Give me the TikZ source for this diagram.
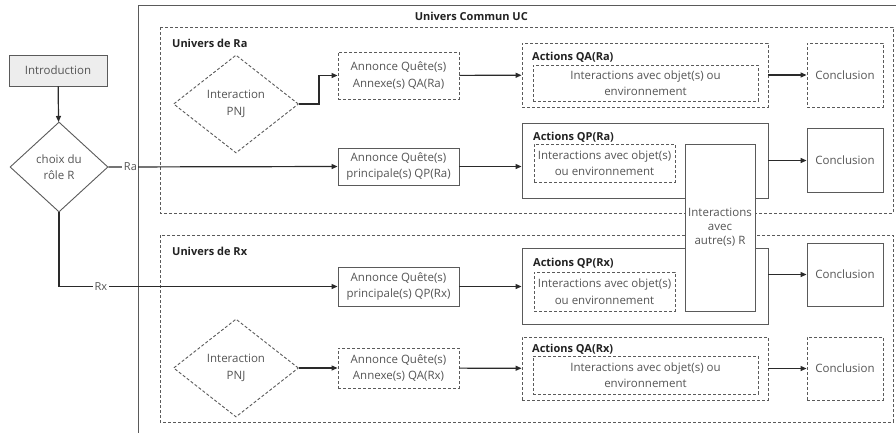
\documentclass[tikz,border=0pt]{standalone}
\usepackage{fontspec}
\setmainfont{Open Sans}
\usetikzlibrary{shapes.geometric,arrows.meta}
\definecolor{ln}{HTML}{5A5A5A}
\definecolor{tx}{HTML}{555555}
\definecolor{tt}{HTML}{222222}
\definecolor{ar}{HTML}{2A2A2A}
\tikzset{
 base/.style={draw=ln, line width=0.9pt, text=tx, inner sep=0pt, align=center, font=\fontsize{11.5}{16.5}\selectfont},
 box/.style={base, rectangle, fill=white},
 dsh/.style={dash pattern=on 3pt off 2pt},
 dbox/.style={box, dsh},
 dia/.style={base, diamond, aspect=1.28},
 ttl/.style={font=\bfseries\fontsize{11}{13}\selectfont, text=tt, inner sep=0pt, anchor=west},
 arr/.style={-{Triangle[length=6pt,width=5pt]}, line width=1.2pt, draw=ar},
 ln2/.style={line width=1.2pt, draw=ar},
 lbl/.style={fill=white, inner sep=1.5pt, text=tx, font=\fontsize{11}{13}\selectfont},
 cont/.style={draw=ln, line width=0.9pt, dsh},
}
\begin{document}
\begin{tikzpicture}[x=1pt,y=-1pt]
\path[use as bounding box, clip] (0,0) rectangle (896,432);
\fill[white] (0,0) rectangle (896,432);
% outer universe
\draw[draw=ln, line width=0.9pt] (138,5) rectangle (910,450);
\node[ttl, anchor=east] (uclbl) at (528,16) {Univers Commun UC};
% containers
\draw[cont] (160,27) rectangle (893,213);
\node[ttl] (ralbl) at (172,43) {Univers de Ra};
\draw[cont] (160,235) rectangle (893,422);
\node[ttl] (rxlbl) at (172,251) {Univers de Rx};
% left part
\node[box, fill=black!7, minimum width=98pt, minimum height=31pt] (intro) at (58,70.5) {Introduction};
\node[dia, minimum width=98pt, minimum height=90pt] (choix) at (59,167) {choix du\\rôle R};
% Ra row
\node[dia, dsh, minimum width=125pt, minimum height=98pt] (pnjra) at (236,104) {Interaction\\PNJ};
\node[dbox, minimum width=121pt, minimum height=47pt] (annqara) at (398.5,75.5) {Annonce Quête(s)\\Annexe(s) QA(Ra)};
\node[box, minimum width=121pt, minimum height=37pt] (annqpra) at (398.5,166.5) {Annonce Quête(s)\\principale(s) QP(Ra)};
\node[dbox, minimum width=246pt, minimum height=64pt] (actqara) at (645,75) {};
\node[ttl] (actqaratl) at (532,57) {Actions QA(Ra)};
\node[dbox, minimum width=225pt, minimum height=36pt] (inqara) at (645.5,83) {Interactions avec objet(s) ou\\environnement};
\node[dbox, minimum width=76pt, minimum height=64pt] (conqara) at (845,75) {Conclusion};
\node[box, minimum width=246pt, minimum height=75pt] (actqpra) at (645,160.5) {};
\node[ttl] (actqpratl) at (533,137) {Actions QP(Ra)};
\node[dbox, minimum width=141pt, minimum height=38pt] (inqpra) at (604.5,163) {Interactions avec objet(s)\\ou environnement};
\node[box, minimum width=76pt, minimum height=64pt] (conqpra) at (845,160) {Conclusion};
% Rx rows
\node[box, minimum width=121pt, minimum height=39pt] (annqprx) at (398.5,286.5) {Annonce Quête(s)\\principale(s) QP(Rx)};
\node[box, minimum width=246pt, minimum height=76pt] (actqprx) at (645,286) {};
\node[ttl] (actqprxtl) at (533,263) {Actions QP(Rx)};
\node[dbox, minimum width=141pt, minimum height=39pt] (inqprx) at (604.5,291.5) {Interactions avec objet(s)\\ou environnement};
\node[box, minimum width=76pt, minimum height=63pt] (conqprx) at (845,274.5) {Conclusion};
\node[dia, dsh, minimum width=125pt, minimum height=98pt] (pnjrx) at (236,368) {Interaction\\PNJ};
\node[dbox, minimum width=121pt, minimum height=40pt] (annqarx) at (398.5,368) {Annonce Quête(s)\\Annexe(s) QA(Rx)};
\node[dbox, minimum width=246pt, minimum height=63pt] (actqarx) at (645,368.5) {};
\node[ttl] (actqarxtl) at (532,349) {Actions QA(Rx)};
\node[dbox, minimum width=225pt, minimum height=38pt] (inqarx) at (645.5,375) {Interactions avec objet(s) ou\\environnement};
\node[dbox, minimum width=76pt, minimum height=63pt] (conqarx) at (845,368.5) {Conclusion};
% connectors
\draw[arr] (intro) -- (choix);
\draw[arr] (choix.east) -- node[lbl, pos=0.096] {Ra} (annqpra.west);
\draw[arr] (choix.south) |- node[lbl, pos=0.575] {Rx} (annqprx.west);
\draw[arr] (pnjra.east) -- ++(20,0) |- (annqara.west);
\draw[arr] (annqara) -- (actqara);
\draw[arr] (actqara) -- (conqara);
\draw[arr] (annqpra.east) -- (annqpra.east -| actqpra.west);
\draw[arr] (actqpra.east) -- (actqpra.east -| conqpra.west);
\draw[arr] (annqprx.east) -- (annqprx.east -| actqprx.west);
\draw[arr] (conqprx.west -| actqprx.east) -- (conqprx.west);
\draw[arr] (pnjrx) -- (annqarx);
\draw[arr] (annqarx) -- (actqarx);
\draw[arr] (actqarx) -- (conqarx);
% shared interactions box on top
\node[box, minimum width=70pt, minimum height=167pt, font=\fontsize{11.5}{14}\selectfont] (inter) at (720,227.5) {Interactions\\avec\\autre(s) R};
\end{tikzpicture}
\end{document}
